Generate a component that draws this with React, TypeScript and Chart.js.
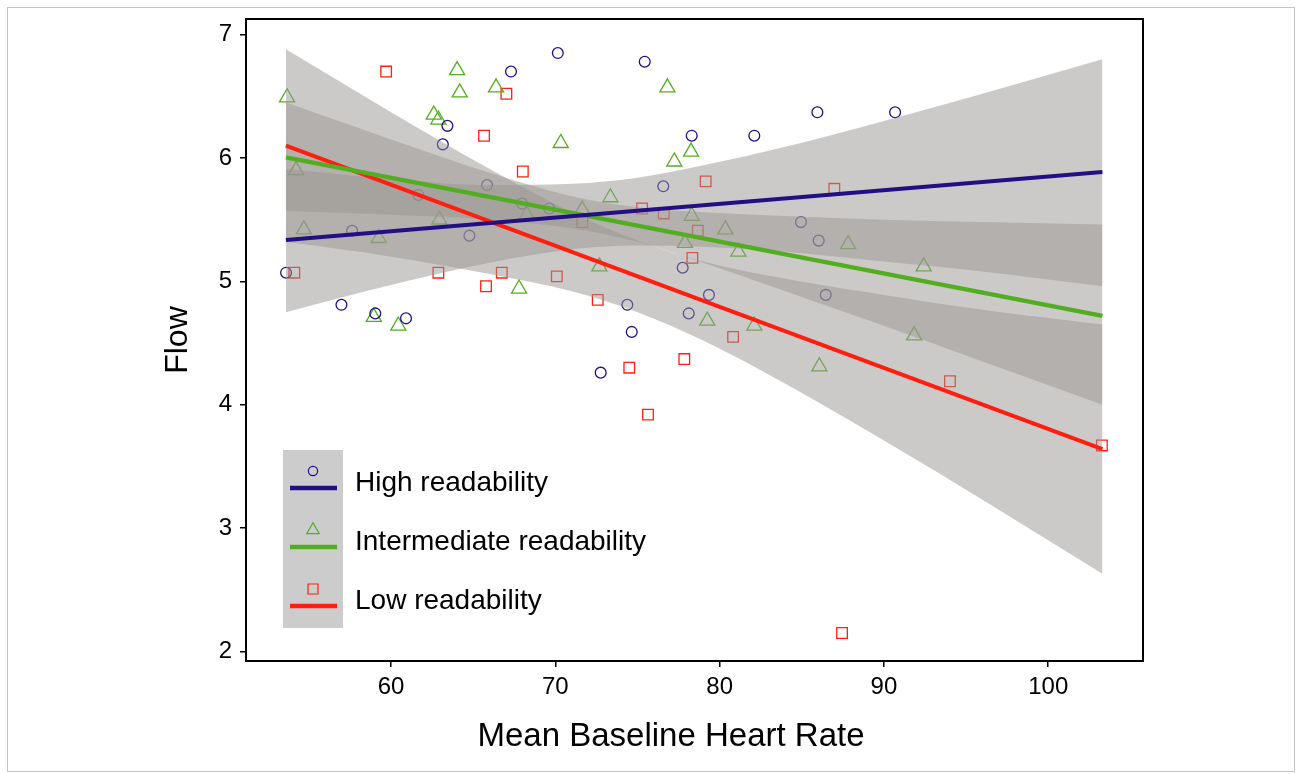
import React, { useEffect, useRef } from 'react';
import { Chart, registerables } from 'chart.js';

Chart.register(...registerables);

const FONT = '"Liberation Sans", Arial, Helvetica, sans-serif';

// ---- axis settings ----
const X_MIN = 51.17;
const X_MAX = 105.77;
const Y_MIN = 1.923;
const Y_MAX = 7.126;
const xTicks = [60, 70, 80, 90, 100];
const yTicks = [2, 3, 4, 5, 6, 7];
const xTitle = 'Mean Baseline Heart Rate';
const yTitle = 'Flow';

// ---- series labels ----
const seriesLabels = ['High readability', 'Intermediate readability', 'Low readability'];

// ---- High readability (circles) ----
const highX = [53.61, 56.98, 57.63, 59.04, 60.91, 61.66, 63.43, 63.15, 64.77, 65.84, 67.30, 67.97, 69.63, 70.15, 72.76, 74.38, 74.65, 75.44, 76.57, 77.75, 78.12, 78.30, 79.35, 82.11, 84.95, 85.95, 86.03, 86.46, 90.68];
const highY = [5.07, 4.81, 5.41, 4.74, 4.70, 5.70, 6.26, 6.11, 5.37, 5.78, 6.70, 5.63, 5.59, 6.85, 4.26, 4.81, 4.59, 6.78, 5.77, 5.11, 4.74, 6.18, 4.89, 6.18, 5.48, 6.37, 5.33, 4.89, 6.37];

// ---- Intermediate readability (triangles) ----
const interX = [53.67, 54.22, 54.69, 58.95, 59.25, 60.44, 62.60, 62.88, 62.94, 64.02, 64.18, 66.39, 67.79, 68.26, 70.33, 71.63, 72.68, 73.35, 76.82, 77.24, 77.89, 78.26, 78.30, 79.25, 80.35, 81.14, 82.11, 86.07, 87.82, 91.84, 92.42];
const interY = [6.49, 5.90, 5.42, 4.71, 5.35, 4.64, 6.35, 6.31, 5.50, 6.71, 6.53, 6.57, 4.94, 5.54, 6.12, 5.58, 5.12, 5.68, 6.57, 5.97, 5.31, 6.05, 5.53, 4.68, 5.42, 5.24, 4.64, 4.31, 5.30, 4.56, 5.12];

// ---- Low readability (squares) ----
const lowX = [54.11, 59.70, 62.88, 65.66, 65.78, 66.74, 67.02, 68.02, 70.09, 71.64, 72.58, 74.50, 75.28, 75.64, 76.60, 77.85, 78.34, 78.67, 79.15, 80.82, 86.98, 87.45, 94.02, 103.27];
const lowY = [5.07, 6.70, 5.07, 6.18, 4.96, 5.07, 6.52, 5.89, 5.04, 5.48, 4.85, 4.30, 5.59, 3.92, 5.55, 4.37, 5.19, 5.41, 5.81, 4.55, 5.75, 2.15, 4.19, 3.67];

// ---- fitted lines (read at the ends) ----
const fitX = [53.6, 103.3];
const highFit = [5.335, 5.886];
const interFit = [6.005, 4.72];
const lowFit = [6.10, 3.64];

// ---- confidence bands ----
const bandX = [53.6, 60, 66, 71, 75, 79, 84, 90, 96, 103.3];
const highUpper = [5.91, 5.83, 5.78, 5.79, 5.84, 5.94, 6.09, 6.30, 6.52, 6.80];
const highLower = [4.75, 4.97, 5.15, 5.26, 5.29, 5.28, 5.24, 5.16, 5.08, 4.96];
const interUpper = [6.45, 6.15, 5.88, 5.69, 5.60, 5.56, 5.53, 5.50, 5.48, 5.46];
const interLower = [5.57, 5.54, 5.50, 5.43, 5.32, 5.15, 4.92, 4.64, 4.35, 4.00];
const lowUpper = [6.88, 6.37, 5.91, 5.56, 5.33, 5.16, 5.02, 4.89, 4.77, 4.65];
const lowLower = [5.32, 5.20, 5.06, 4.92, 4.75, 4.52, 4.17, 3.71, 3.23, 2.63];

// ---- colours ----
const highColor = '#230f84';
const interColor = '#52ae20';
const lowColor = '#ff1e10';
const bandFill = 'rgba(153,150,146,0.5)';

const pts = (xs: number[], ys: number[]) => xs.map((x, i) => ({ x, y: ys[i] }));

const zeroPad = (s: any) => {
  s.paddingLeft = 0;
  s.paddingRight = 0;
  s.paddingTop = 0;
  s.paddingBottom = 0;
};

const framePlugin = {
  id: 'frame',
  beforeDraw(chart: any) {
    const ctx = chart.ctx;
    ctx.save();
    ctx.fillStyle = '#ffffff';
    ctx.fillRect(0, 0, chart.width, chart.height);
    ctx.strokeStyle = '#c4c4c4';
    ctx.lineWidth = 1;
    ctx.strokeRect(7.5, 7.5, 1287, 764);
    ctx.restore();
  },
  afterDraw(chart: any) {
    const ctx = chart.ctx;
    const a = chart.chartArea;
    ctx.save();
    ctx.strokeStyle = '#000';
    ctx.lineWidth = 2;
    ctx.strokeRect(a.left, a.top, a.right - a.left, a.bottom - a.top);
    // x-axis title (placed as in the reference, slightly left of the panel centre)
    ctx.fillStyle = '#000';
    ctx.font = `33px ${FONT}`;
    ctx.textAlign = 'center';
    ctx.textBaseline = 'middle';
    ctx.fillText(xTitle, 671, 737);
    ctx.restore();
  },
};

const legendPlugin = {
  id: 'customLegend',
  afterDraw(chart: any) {
    const ctx = chart.ctx;
    ctx.save();
    ctx.fillStyle = '#cccccc';
    ctx.fillRect(283, 450, 60, 178);
    const colors = [highColor, interColor, lowColor];
    seriesLabels.forEach((label, i) => {
      const sy = 471 + i * 59;
      const ly = 488 + i * 59;
      const ty = 483 + i * 59;
      const cx = 313;
      ctx.strokeStyle = colors[i];
      ctx.lineWidth = 1.2;
      ctx.beginPath();
      if (i === 0) {
        ctx.arc(cx, sy, 4.6, 0, Math.PI * 2);
      } else if (i === 1) {
        const r = 7.2;
        ctx.moveTo(cx, sy - r);
        ctx.lineTo(cx + r * Math.sin((2 * Math.PI) / 3), sy - r * Math.cos((2 * Math.PI) / 3));
        ctx.lineTo(cx + r * Math.sin((4 * Math.PI) / 3), sy - r * Math.cos((4 * Math.PI) / 3));
        ctx.closePath();
      } else {
        ctx.rect(cx - 5, sy - 5, 10, 10);
      }
      ctx.stroke();
      ctx.lineWidth = 4.5;
      ctx.beginPath();
      ctx.moveTo(290, ly);
      ctx.lineTo(337, ly);
      ctx.stroke();
      ctx.fillStyle = '#000';
      ctx.font = `28px ${FONT}`;
      ctx.textBaseline = 'middle';
      ctx.textAlign = 'left';
      ctx.fillText(label, 355, ty);
    });
    ctx.restore();
  },
};

export default function App() {
  const ref = useRef<HTMLCanvasElement>(null);

  useEffect(() => {
    const canvas = ref.current;
    if (!canvas) return;

    const scatterSet = (label: string, xs: number[], ys: number[], color: string, style: string, r: number) => ({
      type: 'scatter',
      label,
      data: pts(xs, ys),
      showLine: false,
      pointStyle: style,
      pointRadius: r,
      pointBorderWidth: 1.3,
      pointBorderColor: color,
      pointBackgroundColor: 'rgba(0,0,0,0)',
      order: 3,
    });

    const bandSets = (upper: number[], lower: number[]) => [
      {
        type: 'line',
        data: pts(bandX, upper),
        borderColor: 'rgba(0,0,0,0)',
        borderWidth: 0,
        pointRadius: 0,
        fill: '+1',
        backgroundColor: bandFill,
        cubicInterpolationMode: 'monotone',
        order: 2,
      },
      {
        type: 'line',
        data: pts(bandX, lower),
        borderColor: 'rgba(0,0,0,0)',
        borderWidth: 0,
        pointRadius: 0,
        fill: false,
        cubicInterpolationMode: 'monotone',
        order: 2,
      },
    ];

    const fitSet = (ys: number[], color: string) => ({
      type: 'line',
      data: pts(fitX, ys),
      borderColor: color,
      borderWidth: 4.2,
      pointRadius: 0,
      fill: false,
      order: 1,
    });

    const chart = new Chart(canvas, {
      type: 'scatter',
      data: {
        datasets: [
          scatterSet(seriesLabels[0], highX, highY, highColor, 'circle', 5.4),
          scatterSet(seriesLabels[1], interX, interY, interColor, 'triangle', 8.7),
          scatterSet(seriesLabels[2], lowX, lowY, lowColor, 'rect', 7.5),
          ...bandSets(highUpper, highLower),
          ...bandSets(interUpper, interLower),
          ...bandSets(lowUpper, lowLower),
          fitSet(highFit, highColor),
          fitSet(interFit, interColor),
          fitSet(lowFit, lowColor),
        ] as any,
      },
      options: {
        animation: false,
        responsive: false,
        devicePixelRatio: 1,
        events: [],
        layout: { padding: { left: 0, right: 153, top: 19, bottom: 0 } },
        plugins: {
          legend: { display: false },
          tooltip: { enabled: false },
          filler: { propagate: false },
        },
        scales: {
          x: {
            type: 'linear',
            min: X_MIN,
            max: X_MAX,
            afterBuildTicks: (s: any) => {
              s.ticks = xTicks.map((v) => ({ value: v }));
            },
            afterFit: (s: any) => {
              s.height = 113;
              zeroPad(s);
            },
            grid: { drawOnChartArea: false, drawTicks: true, tickLength: 6, color: '#000', lineWidth: 1.5 },
            border: { display: true, color: '#000', width: 2 },
            ticks: { color: '#000', font: { family: FONT, size: 24 }, padding: 6, maxRotation: 0, autoSkip: false },
            title: { display: false, text: xTitle },
          },
          y: {
            type: 'linear',
            min: Y_MIN,
            max: Y_MAX,
            afterBuildTicks: (s: any) => {
              s.ticks = yTicks.map((v) => ({ value: v }));
            },
            afterFit: (s: any) => {
              s.width = 246;
              zeroPad(s);
            },
            grid: { drawOnChartArea: false, drawTicks: true, tickLength: 6, color: '#000', lineWidth: 1.5 },
            border: { display: true, color: '#000', width: 2 },
            ticks: { color: '#000', font: { family: FONT, size: 24 }, padding: 8, autoSkip: false },
            title: { display: true, text: yTitle, color: '#000', font: { family: FONT, size: 32 }, padding: { top: 159, bottom: 0 } },
          },
        },
      } as any,
      plugins: [framePlugin, legendPlugin],
    });

    return () => chart.destroy();
  }, []);

  return (
    <div style={{ position: 'fixed', left: 0, top: 0, width: 1296, height: 774, background: '#fff' }}>
      <canvas ref={ref} width={1296} height={774} style={{ display: 'block', width: 1296, height: 774 }} />
    </div>
  );
}
